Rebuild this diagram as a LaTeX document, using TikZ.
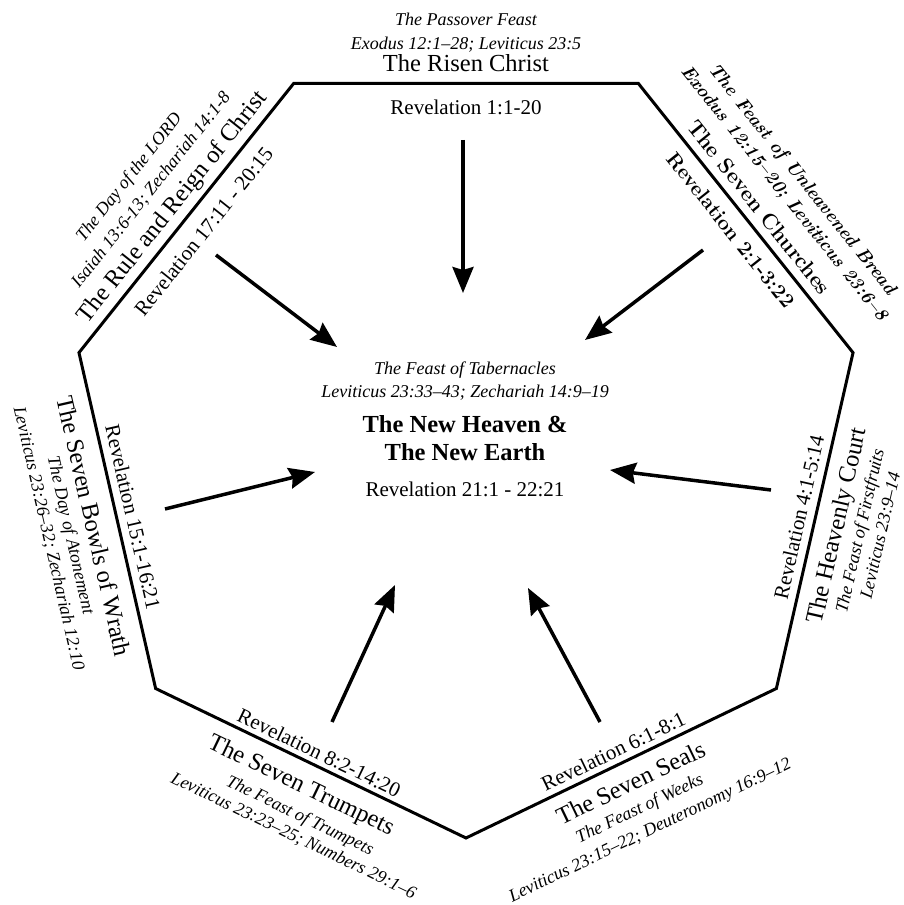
\documentclass[tikz,border=0pt]{standalone}
\usepackage{fontspec}
\newfontfamily\gar{Liberation Serif}
\usetikzlibrary{calc,arrows.meta}
\begin{document}
\begin{tikzpicture}[x=1pt,y=1pt,
  title/.style={font=\gar\fontsize{24.5}{28}\selectfont, anchor=base, inner sep=0pt},
  feast/.style={font=\gar\itshape\fontsize{18}{21}\selectfont, anchor=base, inner sep=0pt},
  revel/.style={font=\gar\fontsize{21}{24}\selectfont, anchor=base, inner sep=0pt},
  cmtitle/.style={font=\bfseries\fontsize{21.5}{25}\selectfont, anchor=base, inner sep=0pt},
  cmfeast/.style={font=\bfseries\itshape\fontsize{18.4}{21}\selectfont, anchor=base, inner sep=0pt},
  cmrevel/.style={font=\bfseries\fontsize{20.4}{24}\selectfont, anchor=base, inner sep=0pt},
  centbold/.style={font=\gar\bfseries\fontsize{24.5}{28}\selectfont, anchor=base, inner sep=0pt},
  arr/.style={line width=3.5pt, -{Stealth[length=26pt,width=21pt,inset=3pt]}},
  hept/.style={line width=3pt, line join=miter}
]
\useasboundingbox (0,0) rectangle (904,905);
\coordinate (C) at (466,464);
\foreach \k in {0,...,6} { \coordinate (v\k) at ($(C)+({-90+\k*360/7}:397)$); }
\draw[hept] (v0)--(v1)--(v2)--(v3)--(v4)--(v5)--(v6)--cycle;
\def\ap{357.7}

% top edge
\begin{scope}[shift={(C)}, rotate=0, transform shape]
\node[title] (t1) at (0,\ap+11.5) {The Risen Christ};
\node[feast] (r1) at (0,\ap+34) {Exodus 12:1–28; Leviticus 23:5};
\node[feast] (f1) at (0,\ap+57.5) {The Passover Feast};
\node[revel] (rv1) at (0,\ap-31) {Revelation 1:1-20};
\end{scope}

% top-right edge
\begin{scope}[shift={(C)}, rotate=-51.4286, transform shape]
\node[cmtitle] (t2) at (0,\ap+10) {The Seven Churches};
\node[cmfeast] (r2) at (5,\ap+40) {Exodus 12:15–20; Leviticus 23:6–8};
\node[cmfeast] (f2) at (5,\ap+63) {The Feast of Unleavened Bread};
\node[cmrevel] (rv2) at (0,\ap-26) {Revelation 2:1-3:22};
\end{scope}

% right edge
\begin{scope}[shift={(C)}, rotate=77.1429, transform shape]
\node[title] (t3) at (0,-\ap-30) {The Heavenly Court};
\node[feast] (f3) at (0,-\ap-52) {The Feast of Firstfruits};
\node[feast] (r3) at (0,-\ap-73) {Leviticus 23:9–14};
\node[revel] (rv3) at (0,-\ap+9) {Revelation 4:1-5:14};
\end{scope}

% bottom-right edge
\begin{scope}[shift={(C)}, rotate=25.7143, transform shape]
\node[title] (t4) at (0,-\ap-30) {The Seven Seals};
\node[feast] (f4) at (-3,-\ap-54) {The Feast of Weeks};
\node[feast] (r4) at (-3,-\ap-78) {Leviticus 23:15–22; Deuteronomy 16:9–12};
\node[revel] (rv4) at (-2,-\ap+7) {Revelation 6:1-8:1};
\end{scope}

% bottom-left edge
\begin{scope}[shift={(C)}, rotate=-25.7143, transform shape]
\node[title] (t5) at (1,-\ap-31) {The Seven Trumpets};
\node[feast] (f5) at (13,-\ap-57) {The Feast of Trumpets};
\node[feast] (r5) at (16,-\ap-78) {Leviticus 23:23–25; Numbers 29:1–6};
\node[revel] (rv5) at (3,-\ap+6) {Revelation 8:2-14:20};
\end{scope}

% left edge
\begin{scope}[shift={(C)}, rotate=-77.1429, transform shape]
\node[title] (t6) at (0,-\ap-32) {The Seven Bowls of Wrath};
\node[feast] (f6) at (4,-\ap-54) {The Day of Atonement};
\node[feast] (r6) at (2,-\ap-76) {Leviticus 23:26–32; Zechariah 12:10};
\node[revel] (rv6) at (0,-\ap+9) {Revelation 15:1-16:21};
\end{scope}

% top-left edge
\begin{scope}[shift={(C)}, rotate=51.4286, transform shape]
\node[title] (t7) at (0,\ap+11) {The Rule and Reign of Christ};
\node[feast] (r7) at (0,\ap+40) {Isaiah 13:6-13; Zechariah 14:1-8};
\node[feast] (f7) at (-4,\ap+65) {The Day of the LORD};
\node[revel] (rv7) at (0,\ap-29) {Revelation 17:11 - 20:15};
\end{scope}

% centre
\node[feast] (cf) at (465,530) {The Feast of Tabernacles};
\node[feast] (cr) at (465,507) {Leviticus 23:33–43; Zechariah 14:9–19};
\node[centbold] (cb1) at (465,472) {The New Heaven \&};
\node[centbold] (cb2) at (465,444.3) {The New Earth};
\node[revel] (crv) at (465,408.3) {Revelation 21:1 - 22:21};

% arrows
\coordinate (a1s) at (463,765); \coordinate (a1e) at (463,612);
\coordinate (a2s) at (703,655); \coordinate (a2e) at (585,565);
\coordinate (a3s) at (771,415); \coordinate (a3e) at (610,435);
\coordinate (a4s) at (600,183); \coordinate (a4e) at (528,317);
\coordinate (a5s) at (332,183); \coordinate (a5e) at (395,320);
\coordinate (a6s) at (165,396); \coordinate (a6e) at (315,433);
\coordinate (a7s) at (216,650); \coordinate (a7e) at (337,558);
\foreach \i in {1,...,7} { \draw[arr] (a\i s) -- (a\i e); }
\end{tikzpicture}
\end{document}
